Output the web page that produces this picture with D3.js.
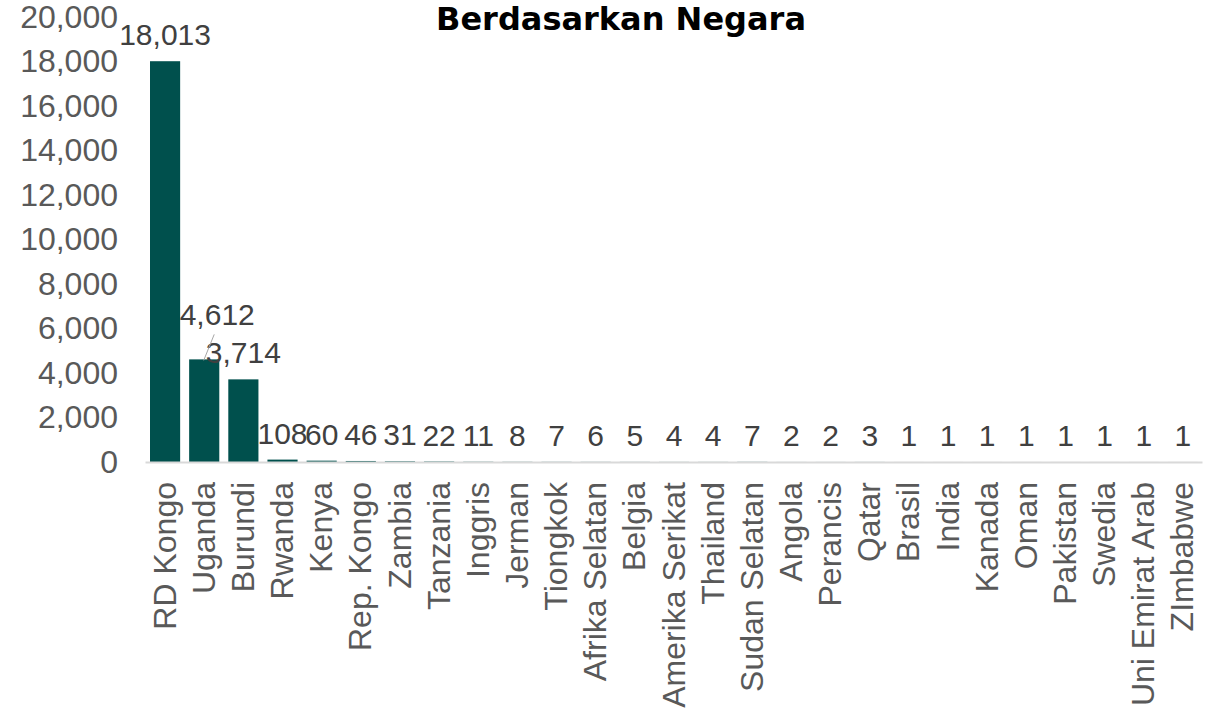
<!DOCTYPE html>
<html>
<head>
<meta charset="utf-8">
<script src="https://cdn.jsdelivr.net/npm/d3@7"></script>
<style>
  body { margin: 0; background: white; }
</style>
</head>
<body>
<div id="chart"></div>
<script>
// Chart data
const countries = ["RD Kongo", "Uganda", "Burundi", "Rwanda", "Kenya", "Rep. Kongo", "Zambia",
  "Tanzania", "Inggris", "Jerman", "Tiongkok", "Afrika Selatan", "Belgia", "Amerika Serikat",
  "Thailand", "Sudan Selatan", "Angola", "Perancis", "Qatar", "Brasil", "India", "Kanada",
  "Oman", "Pakistan", "Swedia", "Uni Emirat Arab", "ZImbabwe"];
const counts = [18013, 4612, 3714, 108, 60, 46, 31, 22, 11, 8, 7, 6, 5, 4, 4, 7, 2, 2, 3,
  1, 1, 1, 1, 1, 1, 1, 1];
const yTicks = [0, 2000, 4000, 6000, 8000, 10000, 12000, 14000, 16000, 18000, 20000];
const titleText = "Berdasarkan Negara";

const width = 1216;
const height = 709;

const svg = d3.select("#chart")
  .append("svg")
  .attr("width", width)
  .attr("height", height)
  .style("background-color", "white");

const data = countries.map((c, i) => ({ name: c, value: counts[i] }));

// scales
const x = d3.scaleBand()
  .domain(countries)
  .range([145.5, 1202.5])
  .paddingInner(0.23)
  .paddingOuter(0.115);

const y = d3.scaleLinear()
  .domain([0, 20000])
  .range([462, 17]);

const font = "'Liberation Sans', Arial, sans-serif";

// title
svg.append("text")
  .attr("x", 621)
  .attr("y", 30)
  .attr("text-anchor", "middle")
  .style("font-family", "'DejaVu Sans', sans-serif")
  .style("font-weight", "bold")
  .style("font-size", "32px")
  .style("fill", "#000")
  .text(titleText);

// y axis (labels only)
const yAxis = svg.append("g")
  .attr("transform", "translate(118,0)")
  .call(d3.axisLeft(y).tickValues(yTicks).tickSize(0).tickPadding(0).tickFormat(d3.format(",")));
yAxis.select(".domain").remove();
yAxis.selectAll("text")
  .style("font-family", font)
  .style("font-size", "32px")
  .style("fill", "#595959");

// bars
svg.append("g")
  .selectAll("rect")
  .data(data)
  .enter().append("rect")
  .attr("x", d => x(d.name))
  .attr("y", d => y(d.value))
  .attr("width", x.bandwidth())
  .attr("height", d => y(0) - y(d.value))
  .attr("fill", "#00504D");

// baseline
svg.append("line")
  .attr("x1", x.range()[0])
  .attr("x2", x.range()[1])
  .attr("y1", y(0) + 0.5)
  .attr("y2", y(0) + 0.5)
  .attr("stroke", "#D9D9D9")
  .attr("stroke-width", 2);

// x labels, rotated
const xAxis = svg.append("g")
  .attr("transform", `translate(0,${y(0)})`)
  .call(d3.axisBottom(x).tickSize(0).tickPadding(0));
xAxis.select(".domain").remove();
xAxis.selectAll("text")
  .attr("transform", "rotate(-90)")
  .attr("x", -20)
  .attr("y", 0)
  .attr("dy", "0.33em")
  .attr("text-anchor", "end")
  .style("font-family", font)
  .style("font-size", "32px")
  .style("fill", "#595959");

// data labels (Uganda's label was moved up with a leader line)
const moved = { "Uganda": { dx: 13, dy: -18 } };

svg.append("g")
  .selectAll("text")
  .data(data)
  .enter().append("text")
  .attr("x", d => x(d.name) + x.bandwidth() / 2 + (moved[d.name] ? moved[d.name].dx : 0))
  .attr("y", d => y(d.value) - 16 + (moved[d.name] ? moved[d.name].dy : 0))
  .attr("text-anchor", "middle")
  .style("font-family", font)
  .style("font-size", "30px")
  .style("fill", "#404040")
  .text(d => d3.format(",")(d.value));

// leader line for Uganda
const ug = data[1];
svg.append("line")
  .attr("x1", x(ug.name) + x.bandwidth() / 2 - 0.5)
  .attr("y1", y(ug.value) + 1)
  .attr("x2", x(ug.name) + x.bandwidth() / 2 + 10)
  .attr("y2", y(ug.value) - 25)
  .attr("stroke", "#A6A6A6")
  .attr("stroke-width", 1);
</script>
</body>
</html>
